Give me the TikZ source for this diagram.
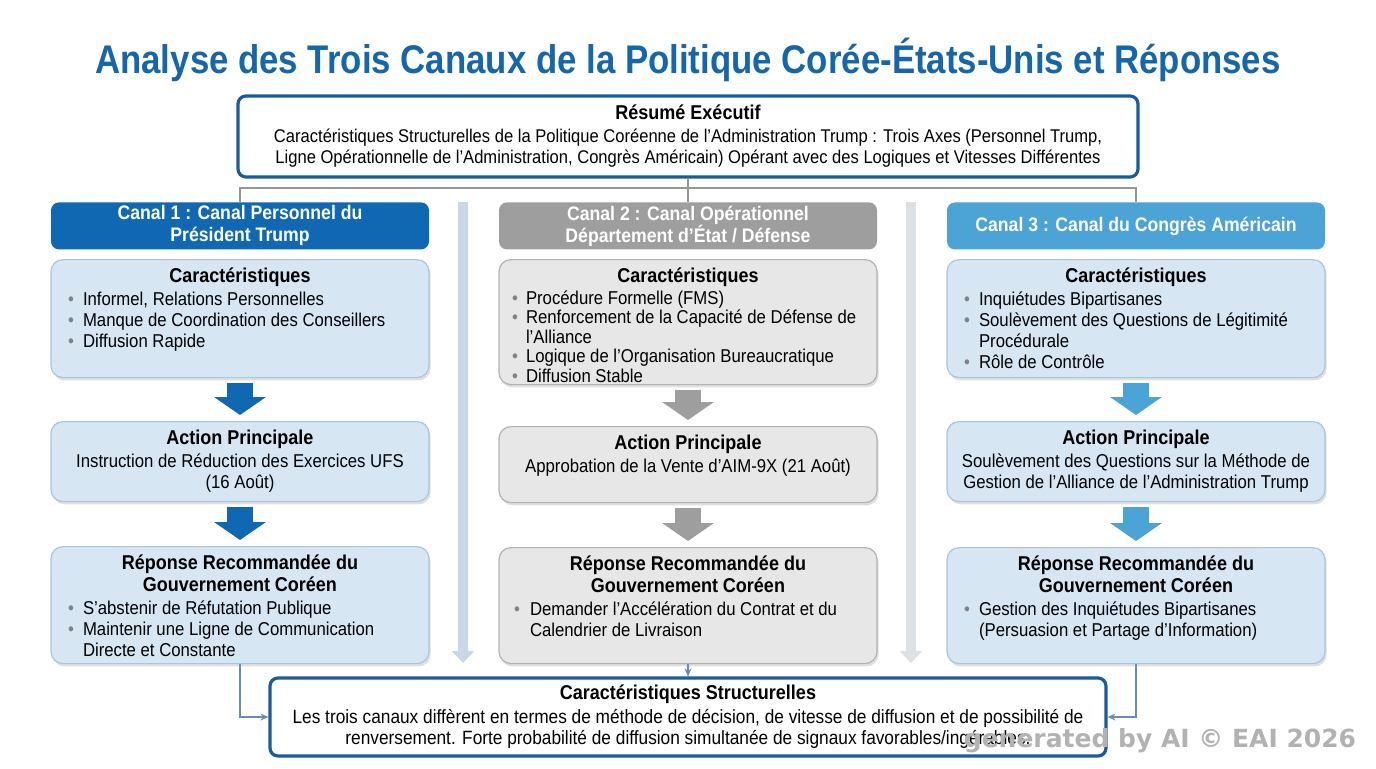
\documentclass[tikz,border=0pt]{standalone}
\usepackage{fontspec}
\setmainfont{Liberation Sans}[FakeStretch=0.9]
\newfontfamily\titlefont{Liberation Sans}[FakeStretch=0.87]
\newfontfamily\markfont{DejaVu Sans}
\usetikzlibrary{arrows.meta,shadows}

\definecolor{titleblue}{RGB}{22,102,170}
\definecolor{execline}{RGB}{24,92,160}
\definecolor{headone}{RGB}{16,104,178}
\definecolor{headtwo}{RGB}{158,158,158}
\definecolor{headthree}{RGB}{76,163,214}
\definecolor{lightblue}{RGB}{214,230,243}
\definecolor{lightblueline}{RGB}{168,198,224}
\definecolor{lightgray}{RGB}{231,231,231}
\definecolor{lightgrayline}{RGB}{178,178,178}
\definecolor{dotgray}{RGB}{130,130,130}
\definecolor{sideone}{RGB}{200,216,232}
\definecolor{sidetwo}{RGB}{220,225,229}
\definecolor{linkgray}{RGB}{150,150,150}
\definecolor{linkblue}{RGB}{105,140,178}

% text helpers
\newlength\bulpos \setlength\bulpos{8.5pt}
\newlength\bultxt \setlength\bultxt{16pt}
\newcommand{\boxhead}[1]{{\centering\fontsize{10}{11}\selectfont\bfseries\rule{0pt}{8pt}#1\par}\vspace{1pt}}
\newcommand{\bul}[1]{\par\noindent\hangindent=\bultxt\hangafter=1\makebox[\bultxt][l]{\hspace{\bulpos}\textcolor{dotgray}{\textbullet}}#1}
\newcommand{\inbox}[2]{\parbox[c][#1][t]{189pt}{\vspace*{3.4pt}\fontsize{9.3}{10.5}\selectfont\raggedright #2}}

\tikzset{
  execbox/.style={draw=execline, line width=1.6pt, fill=white, rounded corners=4pt,
    minimum height=40.5pt, align=center, inner sep=0pt},
  header/.style={rounded corners=4pt, minimum width=189pt, minimum height=23.5pt,
    text=white, align=center, inner sep=0pt, font=\fontsize{9.8}{11}\selectfont\bfseries, anchor=north},
  bluebox/.style={draw=lightblueline, fill=lightblue, line width=0.6pt, rounded corners=6pt,
    inner sep=0pt, anchor=north, drop shadow={shadow xshift=0.8pt, shadow yshift=-1.4pt, opacity=0.25}},
  graybox/.style={bluebox, draw=lightgrayline, fill=lightgray},
  fat/.style={line width=13pt, -{Triangle[width=25.5pt,length=9pt]}, shorten <=2.5pt, shorten >=3pt},
  side/.style={line width=5pt, -{Triangle[width=11pt,length=6pt]}},
  link/.style={draw=linkgray, line width=0.6pt},
  feed/.style={draw=linkblue, line width=0.6pt, -{Stealth[length=4pt,width=3.5pt]}}
}

\begin{document}
\begin{tikzpicture}[x=0.5pt,y=-0.5pt]
\useasboundingbox (0,0) rectangle (1376,768);

% title
\node[text=titleblue, font=\titlefont\fontsize{20}{22}\selectfont\bfseries] (title) at (688,60)
  {Analyse des Trois Canaux de la Politique Corée-États-Unis et Réponses};

% summary
\node[execbox, minimum width=450pt, font=\fontsize{9.2}{10.5}\selectfont] (exec) at (688,136.5)
  {{\fontsize{10}{11}\selectfont\bfseries Résumé Exécutif}\\[1pt]
   Caractéristiques Structurelles de la Politique Coréenne de l'Administration Trump : Trois Axes (Personnel Trump,\\
   Ligne Opérationnelle de l'Administration, Congrès Américain) Opérant avec des Logiques et Vitesses Différentes};

% channel headers
\node[header, fill=headone] (h1) at (240,202) {Canal 1 : Canal Personnel du\\Président Trump};
\node[header, fill=headtwo] (h2) at (688,202) {Canal 2 : Canal Opérationnel\\Département d'État / Défense};
\node[header, fill=headthree] (h3) at (1136,202) {Canal 3 : Canal du Congrès Américain};

\coordinate (split) at (688,188);
\draw[link] (exec.south) -- (h2.north);
\draw[link] (h1.north) |- (split) -| (h3.north);

% side arrows
\coordinate (s1top) at (463,202);
\coordinate (s1bot) at (463,663);
\coordinate (s2top) at (911,202);
\coordinate (s2bot) at (911,663);
\draw[side, draw=sideone, fill=sideone] (s1top) -- (s1bot);
\draw[side, draw=sidetwo, fill=sidetwo] (s2top) -- (s2bot);

% channel 1
\node[bluebox] (c1) at (240,259) {\inbox{59pt}{\boxhead{Caractéristiques}
  \bul{Informel, Relations Personnelles}
  \bul{Manque de Coordination des Conseillers}
  \bul{Diffusion Rapide}}};
\node[bluebox] (a1) at (240,421) {\inbox{40pt}{\boxhead{Action Principale}
  {\centering Instruction de Réduction des Exercices UFS\\(16 Août)\par}}};
\node[bluebox] (r1) at (240,546) {\inbox{58.5pt}{\boxhead{Réponse Recommandée du\\Gouvernement Coréen}
  \bul{S'abstenir de Réfutation Publique}
  \bul{Maintenir une Ligne de Communication\newline Directe et Constante}}};
\draw[fat, draw=headone, fill=headone] (c1.south) -- (a1.north);
\draw[fat, draw=headone, fill=headone] (a1.south) -- (r1.north);

% channel 2
\node[graybox] (c2) at (688,259) {\inbox{62.5pt}{\setlength\bulpos{6.5pt}\setlength\bultxt{13.5pt}\boxhead{Caractéristiques}
  \fontsize{9.3}{9.8}\selectfont
  \bul{Procédure Formelle (FMS)}
  \bul{Renforcement de la Capacité de Défense de\newline l'Alliance}
  \bul{Logique de l'Organisation Bureaucratique}
  \bul{Diffusion Stable}}};
\node[graybox] (a2) at (688,426) {\inbox{38pt}{\boxhead{Action Principale}
  {\centering Approbation de la Vente d'AIM-9X (21 Août)\par}}};
\node[graybox] (r2) at (688,547) {\inbox{58pt}{\setlength\bulpos{7.5pt}\setlength\bultxt{15.5pt}\boxhead{Réponse Recommandée du\\Gouvernement Coréen}
  \bul{Demander l'Accélération du Contrat et du\newline Calendrier de Livraison}}};
\draw[fat, draw=headtwo, fill=headtwo] (c2.south) -- (a2.north);
\draw[fat, draw=headtwo, fill=headtwo] (a2.south) -- (r2.north);

% channel 3
\node[bluebox] (c3) at (1136,259) {\inbox{59pt}{\boxhead{Caractéristiques}
  \bul{Inquiétudes Bipartisanes}
  \bul{Soulèvement des Questions de Légitimité\newline Procédurale}
  \bul{Rôle de Contrôle}}};
\node[bluebox] (a3) at (1136,421) {\inbox{40pt}{\boxhead{Action Principale}
  {\centering Soulèvement des Questions sur la Méthode de\\Gestion de l'Alliance de l'Administration Trump\par}}};
\node[bluebox] (r3) at (1136,547) {\inbox{58pt}{\boxhead{Réponse Recommandée du\\Gouvernement Coréen}
  \bul{Gestion des Inquiétudes Bipartisanes\newline (Persuasion et Partage d'Information)}}};
\draw[fat, draw=headthree, fill=headthree] (c3.south) -- (a3.north);
\draw[fat, draw=headthree, fill=headthree] (a3.south) -- (r3.north);

% synthesis
\node[execbox, minimum width=418pt, minimum height=39pt, font=\fontsize{9.6}{10.8}\selectfont] (bot) at (688,717)
  {{\fontsize{10}{11}\selectfont\bfseries Caractéristiques Structurelles}\\[1pt]
   Les trois canaux diffèrent en termes de méthode de décision, de vitesse de diffusion et de possibilité de\\
   renversement. Forte probabilité de diffusion simultanée de signaux favorables/ingérables.};
\draw[feed] (r1.south) |- (bot.west);
\draw[feed] (r2.south) -- (bot.north);
\draw[feed] (r3.south) |- (bot.east);

% mark
\node[text=gray!60, font=\markfont\fontsize{12.5}{13}\selectfont\bfseries] (mark) at (1160,741) {generated by AI © EAI 2026};
\end{tikzpicture}
\end{document}
